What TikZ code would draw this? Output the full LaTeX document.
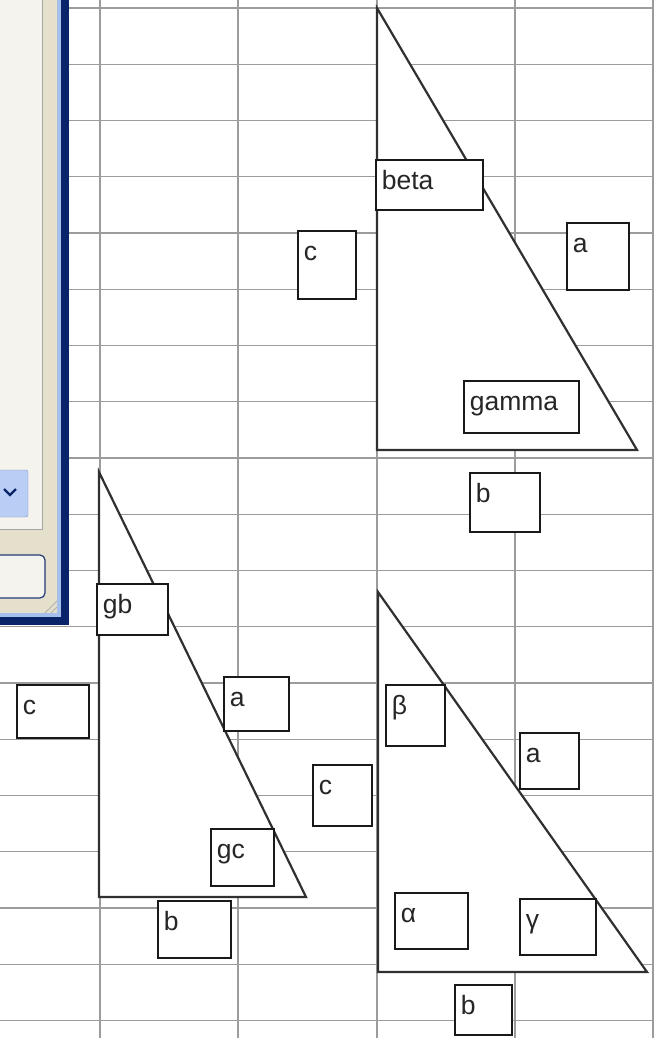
\documentclass[tikz,border=0pt]{standalone}
\usepackage{fontspec}
\setmainfont{Liberation Sans}
\definecolor{gridgray}{HTML}{9C9C9C}
\definecolor{edgegray}{HTML}{303030}
\definecolor{xpbeige}{HTML}{E4E0CC}
\definecolor{xppanel}{HTML}{F4F3EE}
\definecolor{xpnavy}{HTML}{0A246A}
\definecolor{xplight}{HTML}{A6C0EC}
\definecolor{xpcombo}{HTML}{B9CDF5}
\tikzset{
  gridline/.style={gridgray, line width=1.1pt},
  tri/.style={draw=edgegray, fill=white, line width=2.2pt},
  tbox/.style 2 args={draw=black!90, fill=white, line width=1.6pt,
    anchor=north west, inner xsep=6pt, inner ysep=0pt, align=left,
    text width={#1pt-12pt}, text height=29.5pt, text depth={#2pt-29.5pt}},
}

\begin{document}
\begin{tikzpicture}[x=1pt, y=-1pt, font=\fontsize{26.5}{30}\selectfont, text=black!85]
    \useasboundingbox (0,0) rectangle (654,1038);

    % sheet grid
    \foreach \gx in {100,238,377,515,653}
        \draw[gridline] (\gx,0) -- (\gx,1038);
    \foreach \k in {0,...,18}
        \draw[gridline] (0,8+56.25*\k) -- (654,8+56.25*\k);

    % dialog window at the left edge
    \fill[xpbeige] (0,0) rectangle (69,625);
    \draw[gray!70, fill=xppanel] (-2,-2) rectangle (42,529);
    \draw[xpnavy!50, fill=xpcombo, rounded corners=2pt] (-4,470) rectangle (28,517);
    \draw[xpnavy, line width=2.2pt] (4,489) -- (10,495) -- (16,489);
    \draw[xpnavy!90, fill=xppanel, rounded corners=5pt, line width=1.2pt] (-6,555) rectangle (45,598);
    \fill[xplight] (57,0) rectangle (61,617);
    \fill[xplight] (0,613) rectangle (61,617);
    \fill[xpnavy] (61,0) rectangle (69,625);
    \fill[xpnavy] (0,617) rectangle (69,625);
    \draw[gray!60, line width=1pt] (45,613) -- (57,601) (51,613) -- (57,607);

    % triangles
    \coordinate (t1top) at (377,8);
    \coordinate (t1left) at (377,450);
    \coordinate (t1right) at (637,450);
    \coordinate (t2top) at (99,472);
    \coordinate (t2left) at (99,897);
    \coordinate (t2right) at (306,897);
    \coordinate (t3top) at (378,592);
    \coordinate (t3left) at (378,972);
    \coordinate (t3right) at (647,972);

    \draw[tri] (t1top) -- (t1left) -- (t1right) -- cycle;
    \draw[tri] (t2top) -- (t2left) -- (t2right) -- cycle;
    \draw[tri] (t3top) -- (t3left) -- (t3right) -- cycle;

    % labels of the first triangle
    \node[tbox={107}{50}] (betaA) at (375,159) {beta};
    \node[tbox={58}{68}] (cA) at (297,230) {c};
    \node[tbox={62}{67}] (aA) at (566,222) {a};
    \node[tbox={115}{52}] (gammaA) at (463,380) {gamma};
    \node[tbox={70}{59}] (bA) at (469,472) {b};

    % labels of the second triangle
    \node[tbox={71}{51}] (gbB) at (96,583) {gb};
    \node[tbox={72}{53}] (cB) at (16,684) {c};
    \node[tbox={65}{54}] (aB) at (223,676) {a};
    \node[tbox={63}{57}] (gcB) at (210,828) {gc};
    \node[tbox={73}{57}] (bB) at (157,900) {b};

    % labels of the third triangle
    \node[tbox={59}{61}] (betaC) at (385,684) {β};
    \node[tbox={59}{61}] (cC) at (312,764) {c};
    \node[tbox={59}{56}] (aC) at (519,732) {a};
    \node[tbox={73}{56}] (alphaC) at (394,892) {α};
    \node[tbox={76}{56}] (gammaC) at (519,898) {γ};
    \node[tbox={57}{50}] (bC) at (454,984) {b};
\end{tikzpicture}
\end{document}
